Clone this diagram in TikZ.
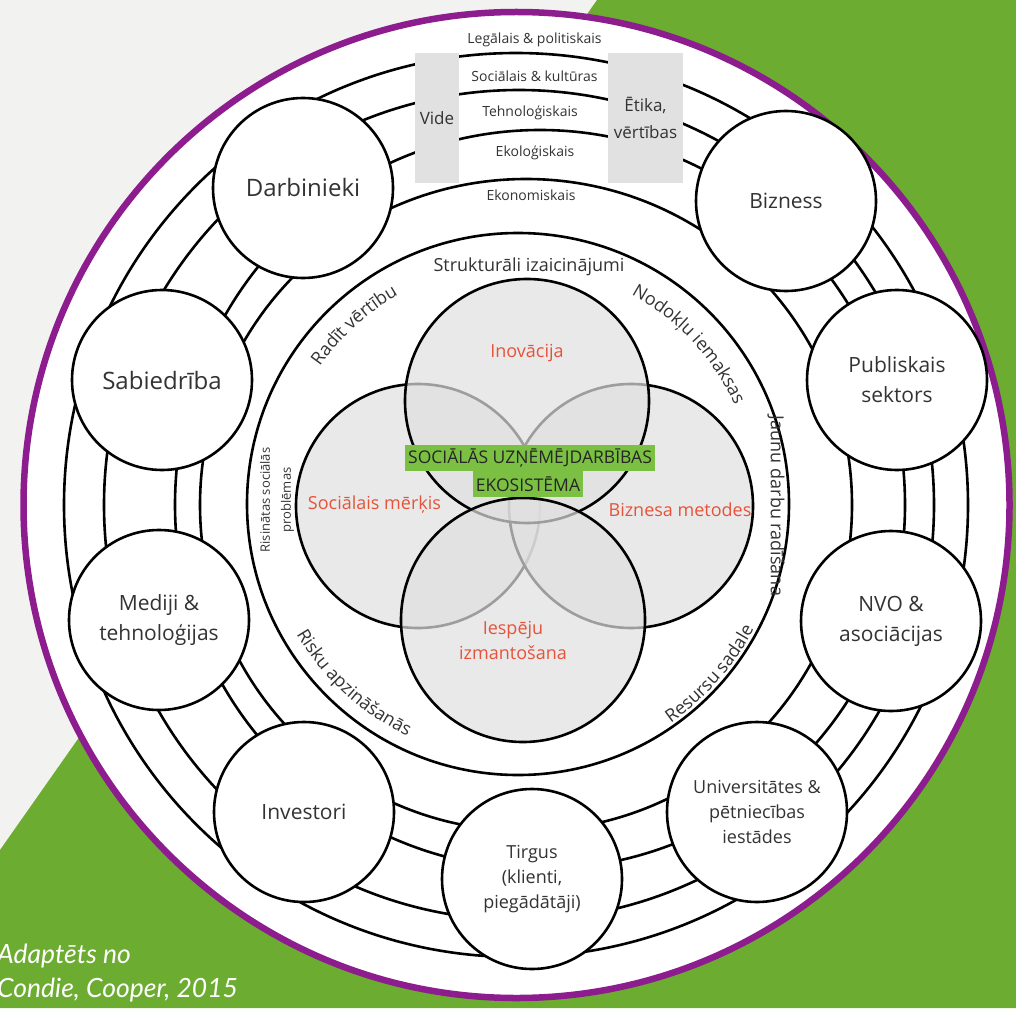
\documentclass[tikz,border=0pt]{standalone}
\usepackage{fontspec}
\setmainfont{Open Sans}
\newfontfamily\capfont{Lato}
\usetikzlibrary{decorations.text}
\definecolor{paper}{HTML}{F2F2F0}
\definecolor{leaf}{HTML}{6CAC31}
\definecolor{plum}{HTML}{8D1D8E}
\definecolor{boxgray}{HTML}{E1E1E1}
\definecolor{venngray}{HTML}{E0E0E0}
\definecolor{labred}{HTML}{E5533A}
\definecolor{tagreen}{HTML}{7BC043}
\definecolor{ink}{HTML}{333333}
\newcommand\innerfs{\fontsize{18}{22}\selectfont}
\tikzset{
  actor/.style={circle, draw=black, line width=2.6pt, fill=white, minimum size=180pt, inner sep=0pt, align=center, text=ink},
  fbig/.style={font=\fontsize{24}{30}\selectfont},
  fmid/.style={font=\fontsize{21}{30}\selectfont},
  fsmall/.style={font=\fontsize{18}{25}\selectfont},
  ringline/.style={draw=black, line width=2.6pt},
  vennc/.style={circle, draw=black, line width=2.6pt, fill=venngray, fill opacity=0.7, minimum size=244pt, inner sep=0pt},
  envbox/.style={fill=boxgray, draw=none, inner sep=0pt, text=ink, align=center, font=\fontsize{17}{25}\selectfont},
  bandlabel/.style={text=ink, font=\fontsize{14}{16}\selectfont, inner sep=0pt},
  innerlabel/.style={text=ink, font=\innerfs, inner sep=0pt},
  arclabel/.style={decorate, decoration={text along path, text align=center, text color=ink, text={|\innerfs|#1}}},
  vennlabel/.style={text=labred, font=\fontsize{18}{25}\selectfont, inner sep=0pt, align=center},
  tag/.style={fill=tagreen, text=black!85, font=\fontsize{17.5}{20}\selectfont, inner xsep=3pt, inner ysep=0pt, minimum height=26pt},
  caption/.style={text=white, font=\capfont\itshape\fontsize{26.5}{30}\selectfont, inner sep=0pt, anchor=base west},
}
\begin{document}
\begin{tikzpicture}[x=1pt,y=-1pt]
\useasboundingbox (0,0) rectangle (1016,1008);
% background
\fill[paper] (0,0) rectangle (1016,1008);
\fill[leaf] (597,0) -- (1016,0) -- (1016,1008) -- (0,1008) -- (0,850) -- cycle;
% outer disc
\draw[plum, line width=6.5pt, fill=white] (516.5,505) circle (493pt);
% ring lines (the five environment bands)
\draw[ringline] (516,505) circle (452pt);
\draw[ringline] (519,505) circle (415pt);
\draw[ringline] (905,505) arc[start angle=0, end angle=180, x radius=365pt, y radius=375pt]
                 arc[start angle=180, end angle=360, x radius=365pt, y radius=364pt];
\draw[ringline] (526,505) circle (326pt);
% inner circle
\coordinate (O) at (518,504);
\draw[ringline, fill=white] (O) circle (271pt);
% environment boxes
\node[envbox, minimum width=44pt, minimum height=130pt] (vide) at (437,118) {Vide};
\node[envbox, minimum width=75pt, minimum height=130pt] (etika) at (645.5,118) {\raisebox{2pt}{Ētika,}\\vērtības};
% band labels
\node[bandlabel] (leg) at (534.5,40) {Legālais \& politiskais};
\node[bandlabel] (soc) at (534.5,76) {Sociālais \& kultūras};
\node[bandlabel] (teh) at (530,113) {Tehnoloģiskais};
\node[bandlabel] (eko) at (535,153) {Ekoloģiskais};
\node[bandlabel] (ekon) at (531,195) {Ekonomiskais};
% stakeholders
\node[actor, fbig] (dar) at (303,188) {Darbinieki};
\node[actor, fmid] (biz) at (786,201) {Bizness};
\node[actor, fmid] (pub) at (897,380) {Publiskais\\sektors};
\node[actor, fmid] (nvo) at (891,621) {NVO \&\\asociācijas};
\node[actor, fsmall] (uni) at (757,812) {Universitātes \&\\pētniecības\\iestādes};
\node[actor, fsmall] (tir) at (532,879) {Tirgus\\(klienti,\\piegādātāji)};
\node[actor, fmid] (inv) at (304,812) {Investori};
\node[actor, fmid] (med) at (159,620) {Mediji \&\\tehnoloģijas};
\node[actor, fbig] (sab) at (162,380) {Sabiedrība};
% inner labels
\node[innerlabel] (strukt) at (529,267) {Strukturāli izaicinājumi};
\path[arclabel={Radīt vērtību}] (O) ++(147:241pt) arc[start angle=147, end angle=118, radius=241pt];
\path[arclabel={Nodokļu iemaksas}] (O) ++(63:238pt) arc[start angle=63, end angle=23, radius=238pt];
\path[arclabel={Risku apzināšanās}] (O) ++(207:257pt) arc[start angle=207, end angle=248, radius=257pt];
\path[arclabel={Resursu sadale}] (O) ++(-58:267pt) arc[start angle=-58, end angle=-25, radius=267pt];
\node[innerlabel, rotate=-90] (jaunu) at (776,506) {Jaunu darbu radīšana};
\node[innerlabel, rotate=90, align=center, font=\fontsize{13}{21}\selectfont] (risin) at (277,500) {Risinātas sociālās\\problēmas};
% Venn
\node[vennc] (vl) at (418,506) {};
\node[vennc] (vr) at (631,506) {};
\node[vennc] (vt) at (527,401) {};
\node[vennc] (vb) at (523,620) {};
\node[vennlabel] (linov) at (527,353) {Inovācija};
\node[vennlabel] (lsoc) at (374.5,505) {Sociālais mērķis};
\node[vennlabel] (lbiz) at (680,510) {Biznesa metodes};
\node[vennlabel] (lies) at (513,640) {Iespēju\\izmantošana};
\node[tag] (t1) at (530,458) {SOCIĀLĀS UZŅĒMĒJDARBĪBAS};
\node[tag] (t2) at (528,484) {EKOSISTĒMA};
% caption
\node[caption] (cap1) at (-3,963) {Adaptēts no};
\node[caption] (cap2) at (-3,997) {Condie, Cooper, 2015};
\end{tikzpicture}
\end{document}
